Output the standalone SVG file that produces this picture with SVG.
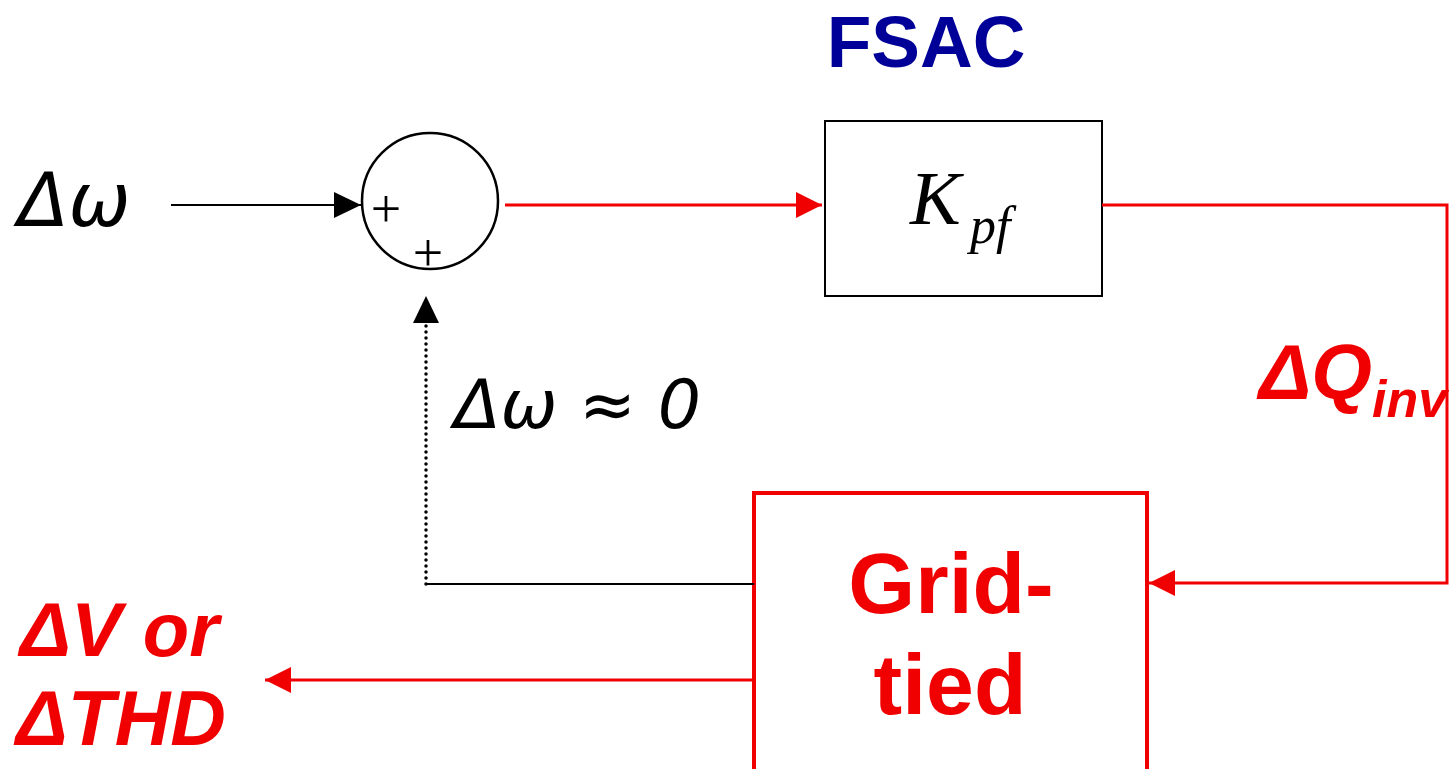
<svg xmlns="http://www.w3.org/2000/svg" width="1449" height="769" viewBox="0 0 1449 769">
<style>
.blk{fill:none;stroke:#000;stroke-width:2}
.red{fill:none;stroke:#f00000;stroke-width:3}
.math{font-family:"DejaVu Sans",Verdana,sans-serif;font-style:italic;fill:#000}
.redlbl{font-family:"Liberation Sans",Arial,sans-serif;font-weight:bold;font-style:italic;fill:#f00000}
.ser{font-family:"Liberation Serif","Times New Roman",serif}
</style>
<defs>
<marker id="ab" markerUnits="userSpaceOnUse" viewBox="0 0 27 26" refX="27" refY="13" markerWidth="27" markerHeight="26" orient="auto">
<path d="M0,0 L27,13 L0,26 z" fill="#000"/>
</marker>
<marker id="ar" markerUnits="userSpaceOnUse" viewBox="0 0 26 26" refX="26" refY="13" markerWidth="26" markerHeight="26" orient="auto">
<path d="M0,0 L26,13 L0,26 z" fill="#f00000"/>
</marker>
</defs>

<text x="926" y="67" font-family="Liberation Sans,Arial,sans-serif" font-weight="bold" font-size="73" fill="#000099" text-anchor="middle">FSAC</text>

<g id="input-label">
<text class="math" x="18" y="226" font-size="74">Δω</text>
</g>

<g id="sum">
<circle cx="430" cy="201" r="68" fill="#fff" stroke="#000" stroke-width="2.5"/>
<text class="ser" x="386" y="227" font-size="54" text-anchor="middle">+</text>
<text class="ser" x="428" y="271" font-size="54" text-anchor="middle">+</text>
</g>

<g id="kpf">
<rect x="825" y="121" width="277" height="175" fill="#fff" stroke="#000" stroke-width="2"/>
<text class="ser" x="910" y="224" font-size="76" font-style="italic">K</text>
<text class="ser" x="970" y="243" font-size="52" font-style="italic">pf</text>
</g>

<g id="grid">
<rect x="754" y="493" width="393" height="300" fill="#fff" stroke="#f00000" stroke-width="4"/>
<text x="951" y="613" font-family="Liberation Sans,Arial,sans-serif" font-weight="bold" font-size="86" fill="#f00000" text-anchor="middle">Grid-</text>
<text x="950" y="714" font-family="Liberation Sans,Arial,sans-serif" font-weight="bold" font-size="86" fill="#f00000" text-anchor="middle">tied</text>
</g>

<g id="connectors">
<path class="blk" d="M171,205 L361,205" marker-end="url(#ab)"/>
<path class="red" d="M505,205 L822,205" marker-end="url(#ar)"/>
<path class="red" d="M1102,205 L1447,205 L1447,583 L1149,583" stroke-width="2.5" marker-end="url(#ar)"/>
<path class="blk" d="M754,584 L426,584"/>
<path d="M426,584 L426,296" fill="none" stroke="#000" stroke-width="3.5" stroke-dasharray="0 6" stroke-linecap="round" marker-end="url(#ab)"/>
<path class="red" d="M754,680 L265,680" marker-end="url(#ar)"/>
</g>

<g id="labels">
<text class="math" x="454" y="428" font-size="68">Δω ≈ 0</text>
<text class="redlbl" x="1259" y="399" font-size="78">ΔQ<tspan font-size="52" dy="18">inv</tspan></text>
<text class="redlbl" x="20" y="656" font-size="76">ΔV or</text>
<text class="redlbl" x="16" y="745" font-size="77">ΔTHD</text>
</g>
</svg>
